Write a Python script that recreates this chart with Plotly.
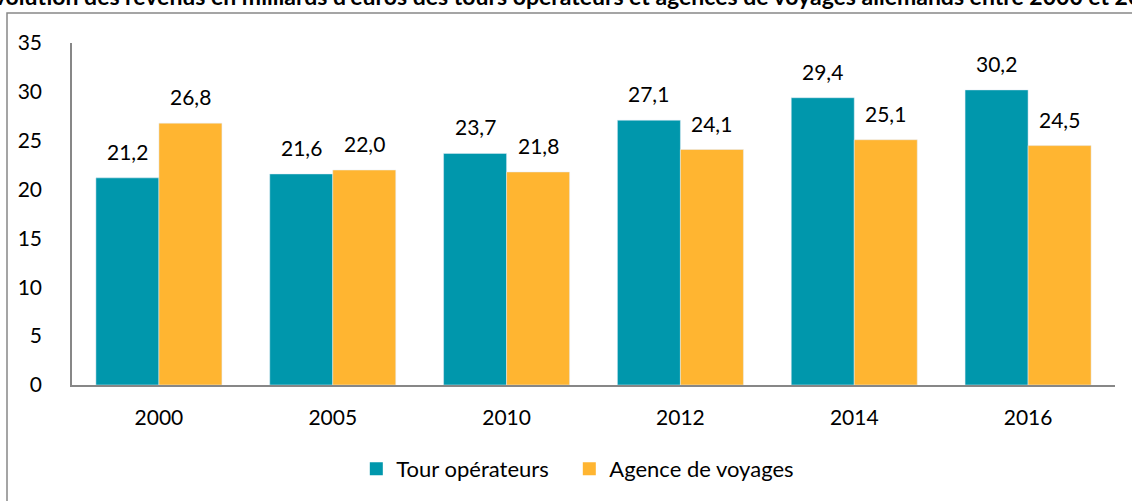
import plotly.graph_objects as go

years = ["2000", "2005", "2010", "2012", "2014", "2016"]
tour_operateurs = [21.2, 21.6, 23.7, 27.1, 29.4, 30.2]
agences = [26.8, 22.0, 21.8, 24.1, 25.1, 24.5]
series_names = ["Tour opérateurs", "Agence de voyages"]
title_text = "Évolution des revenus en milliards d'euros des tours opérateurs et agences de voyages allemands entre 2000 et 2016"

TEAL = "#0097AC"
ORANGE = "#FFB531"
FONT = "Lato"

W, H = 1132, 501
L, R, T, B = 72, 17, 43, 116
plot_w = W - L - R
plot_h = H - T - B

def py(px):
    return (H - B - px) / plot_h

def pxx(px):
    return (px - L) / plot_w

fig = go.Figure()
fig.add_trace(go.Bar(x=years, y=tour_operateurs, name=series_names[0], marker_color=TEAL, showlegend=False))
fig.add_trace(go.Bar(x=years, y=agences, name=series_names[1], marker_color=ORANGE, showlegend=False))
for nm, col, lw in zip(series_names, [TEAL, ORANGE], [168, 200]):
    fig.add_trace(go.Scatter(x=[None], y=[None], mode="markers", name=nm, legendwidth=lw,
                             marker=dict(symbol="square", size=13, color=col)))

bargap = 0.275
half = plot_w / len(years) * (1 - bargap) / 4

annotations = []
for i, v in enumerate(tour_operateurs):
    annotations.append(dict(x=i, y=v, xref="x", yref="y", text=f"{v:.1f}".replace(".", ","),
                            showarrow=False, xshift=-half, yshift=12, yanchor="bottom",
                            font=dict(family=FONT, size=21, color="#000")))
for i, v in enumerate(agences):
    annotations.append(dict(x=i, y=v, xref="x", yref="y", text=f"{v:.1f}".replace(".", ","),
                            showarrow=False, xshift=half, yshift=12, yanchor="bottom",
                            font=dict(family=FONT, size=21, color="#000")))

annotations.append(dict(x=pxx(574), y=py(12), xref="paper", yref="paper", text="<b>" + title_text + "</b>",
                        showarrow=False, xanchor="center", yanchor="bottom",
                        font=dict(family=FONT, size=23, color="#000")))

fig.update_layout(
    width=W, height=H,
    margin=dict(l=L, r=R, t=T, b=B, pad=0, autoexpand=False),
    paper_bgcolor="white", plot_bgcolor="white",
    barmode="group", bargap=bargap, bargroupgap=0,
    font=dict(family=FONT, size=21, color="#000"),
    showlegend=True,
    legend=dict(orientation="h", x=pxx(373) - 0.016, xanchor="left", y=py(469), yanchor="middle",
                font=dict(family=FONT, size=22, color="#000"), bgcolor="rgba(0,0,0,0)",
                itemwidth=30, tracegroupgap=0),
    annotations=annotations,
    shapes=[dict(type="rect", xref="paper", yref="paper",
                 x0=pxx(7), x1=pxx(1200), y0=py(560), y1=py(13),
                 line=dict(color="#888888", width=1.5), fillcolor="rgba(0,0,0,0)", layer="below")],
)
fig.update_xaxes(type="category", range=[-0.5, 5.5], showline=True, linecolor="#878787", linewidth=1.5,
                 ticks="outside", ticklen=13, tickcolor="rgba(0,0,0,0)", showgrid=False, automargin=False,
                 tickfont=dict(family=FONT, size=21, color="#000"))
fig.update_yaxes(range=[0, 35], dtick=5, showline=True, linecolor="#878787", linewidth=1.5,
                 ticks="outside", ticklen=24, tickcolor="rgba(0,0,0,0)", showgrid=False, automargin=False,
                 zeroline=False, tickfont=dict(family=FONT, size=21, color="#000"))

fig.write_html("out.html", config={"displayModeBar": False},
               post_script="document.body.style.margin='0';document.body.style.overflow='hidden';")
